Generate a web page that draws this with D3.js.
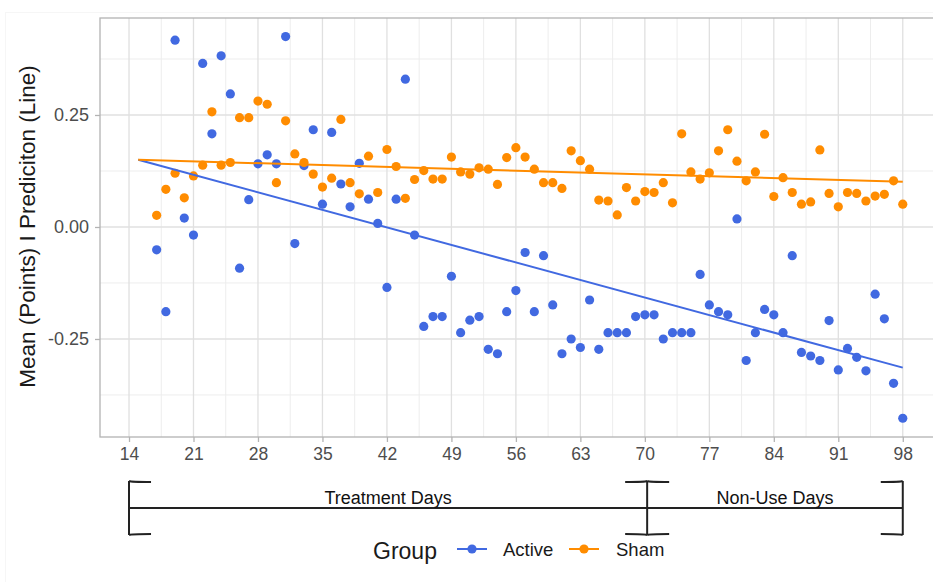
<!DOCTYPE html>
<html>
<head>
<meta charset="utf-8">
<script src="https://cdn.jsdelivr.net/npm/d3@7"></script>
<style>
  html, body { margin: 0; padding: 0; background: #fff; }
  svg { display: block; font-family: "Liberation Sans", Arial, Helvetica, sans-serif; }
</style>
</head>
<body>
<svg id="chart" width="933" height="582"></svg>
<script>
// ---------------- data ----------------
const days = d3.range(17, 99); // 17..98
const activeValues = [
  -0.051, -0.189, 0.417, 0.020, -0.018, 0.365, 0.208, 0.382, 0.297, -0.092,
  0.061, 0.141, 0.161, 0.141, 0.425, -0.037, 0.137, 0.217, 0.051, 0.211,
  0.096, 0.045, 0.142, 0.062, 0.008, -0.135, 0.062, 0.330, -0.018, -0.222,
  -0.200, -0.200, -0.110, -0.236, -0.208, -0.200, -0.273, -0.283, -0.189, -0.142,
  -0.057, -0.189, -0.064, -0.174, -0.283, -0.250, -0.269, -0.163, -0.273, -0.236,
  -0.236, -0.236, -0.200, -0.196, -0.196, -0.250, -0.236, -0.236, -0.236, -0.106,
  -0.174, -0.189, -0.196, 0.018, -0.298, -0.236, -0.184, -0.196, -0.236, -0.064,
  -0.280, -0.288, -0.298, -0.209, -0.319, -0.271, -0.291, -0.321, -0.150, -0.205,
  -0.349, -0.427
];
const shamValues = [
  0.026, 0.084, 0.120, 0.065, 0.114, 0.138, 0.257, 0.138, 0.144, 0.244,
  0.244, 0.281, 0.274, 0.099, 0.237, 0.163, 0.144, 0.118, 0.089, 0.109,
  0.240, 0.099, 0.074, 0.158, 0.077, 0.173, 0.135, 0.064, 0.106, 0.126,
  0.107, 0.107, 0.156, 0.123, 0.118, 0.132, 0.129, 0.095, 0.155, 0.177,
  0.156, 0.129, 0.099, 0.099, 0.086, 0.170, 0.148, 0.129, 0.060, 0.058,
  0.027, 0.088, 0.058, 0.079, 0.077, 0.099, 0.054, 0.208, 0.123, 0.107,
  0.121, 0.170, 0.217, 0.147, 0.103, 0.123, 0.207, 0.068, 0.110, 0.077,
  0.051, 0.056, 0.172, 0.075, 0.045, 0.077, 0.075, 0.058, 0.069, 0.073,
  0.103, 0.051
];
const lineDays = [15, 98];
const activeLine = [0.150, -0.314];
const shamLine = [0.150, 0.101];

const groups = ["Active", "Sham"];
const groupColors = ["#4169E1", "#FF8C00"];

const xTicks = [14, 21, 28, 35, 42, 49, 56, 63, 70, 77, 84, 91, 98];
const xMinor = [17.5, 24.5, 31.5, 38.5, 45.5, 52.5, 59.5, 66.5, 73.5, 80.5, 87.5, 94.5, 101.5];
const yTicks = [-0.25, 0, 0.25];
const yMinor = [-0.375, -0.125, 0.125, 0.375];
const yTickLabels = ["-0.25", "0.00", "0.25"];

const periodBounds = [14, 70.25, 98];
const periodLabels = ["Treatment Days", "Non-Use Days"];

const yTitle = "Mean (Points) I Prediciton (Line)";
const legendTitle = "Group";

// ---------------- layout ----------------
const svg = d3.select("#chart");
const panel = { left: 100, right: 941, top: 18, bottom: 437 };

const x = d3.scaleLinear().domain([10.85, 102.15]).range([panel.left, panel.right]);
const y = d3.scaleLinear().domain([-0.4688, 0.4665]).range([panel.bottom, panel.top]);

// faint outer frame (screenshot border)
svg.append("rect").attr("x", 5.5).attr("y", 12.5).attr("width", 940).attr("height", 570)
  .attr("fill", "none").attr("stroke", "#f6f6f6");

const g = svg.append("g");

// grid
const gridMinor = "#ededed", gridMajor = "#e0e0e0";
g.selectAll(".xminor").data(xMinor).enter().append("line")
  .attr("x1", d => x(d)).attr("x2", d => x(d))
  .attr("y1", panel.top).attr("y2", panel.bottom)
  .attr("stroke", gridMinor).attr("stroke-width", 1);
g.selectAll(".yminor").data(yMinor).enter().append("line")
  .attr("y1", d => y(d)).attr("y2", d => y(d))
  .attr("x1", panel.left).attr("x2", panel.right)
  .attr("stroke", gridMinor).attr("stroke-width", 1);
g.selectAll(".xmajor").data(xTicks).enter().append("line")
  .attr("x1", d => x(d)).attr("x2", d => x(d))
  .attr("y1", panel.top).attr("y2", panel.bottom)
  .attr("stroke", gridMajor).attr("stroke-width", 1.3);
g.selectAll(".ymajor").data(yTicks).enter().append("line")
  .attr("y1", d => y(d)).attr("y2", d => y(d))
  .attr("x1", panel.left).attr("x2", panel.right)
  .attr("stroke", gridMajor).attr("stroke-width", 1.3);

// panel border
g.append("rect")
  .attr("x", panel.left).attr("y", panel.top)
  .attr("width", panel.right - panel.left).attr("height", panel.bottom - panel.top)
  .attr("fill", "none").attr("stroke", "#b3b3b3").attr("stroke-width", 1.3);

// axes
const xAxis = d3.axisBottom(x).tickValues(xTicks).tickSize(5).tickPadding(6).tickFormat(d3.format("d"));
const gx = svg.append("g").attr("transform", `translate(0,${panel.bottom})`).call(xAxis);
gx.select(".domain").remove();
gx.selectAll("line").attr("stroke", "#b3b3b3").attr("stroke-width", 1.3);
gx.selectAll("text").attr("fill", "#4d4d4d").style("font-size", "17.5px");

const yAxis = d3.axisLeft(y).tickValues(yTicks).tickSize(5).tickPadding(6)
  .tickFormat((d, i) => yTickLabels[i]);
const gy = svg.append("g").attr("transform", `translate(${panel.left},0)`).call(yAxis);
gy.select(".domain").remove();
gy.selectAll("line").attr("stroke", "#b3b3b3").attr("stroke-width", 1.3);
gy.selectAll("text").attr("fill", "#4d4d4d").style("font-size", "18px");

// y title
svg.append("text")
  .attr("transform", `translate(35,${(panel.top + panel.bottom) / 2 - 1}) rotate(-90)`)
  .attr("text-anchor", "middle")
  .attr("fill", "#1a1a1a")
  .style("font-size", "22.5px")
  .text(yTitle);

// clip
svg.append("clipPath").attr("id", "clip").append("rect")
  .attr("x", panel.left).attr("y", panel.top)
  .attr("width", panel.right - panel.left).attr("height", panel.bottom - panel.top);
const plot = svg.append("g").attr("clip-path", "url(#clip)");

const seriesVals = [activeValues, shamValues];
const lineVals = [activeLine, shamLine];
const lineGen = d3.line().x(d => x(d[0])).y(d => y(d[1]));

seriesVals.forEach((vals, si) => {
  plot.append("g").selectAll("circle")
    .data(days.map((d, i) => [d, vals[i]]))
    .enter().append("circle")
    .attr("cx", d => x(d[0])).attr("cy", d => y(d[1]))
    .attr("r", 4.6).attr("fill", groupColors[si]);
});
lineVals.forEach((vals, si) => {
  plot.append("path")
    .datum(lineDays.map((d, i) => [d, vals[i]]))
    .attr("d", lineGen)
    .attr("fill", "none").attr("stroke", groupColors[si]).attr("stroke-width", 2);
});

// period annotation brackets
const ann = svg.append("g").attr("stroke", "#222").attr("fill", "none").attr("stroke-width", 2);
const bTop = 481, bMid = 508, bBot = 535, tick = 22;
ann.append("line").attr("x1", x(periodBounds[0])).attr("x2", x(periodBounds[2]))
  .attr("y1", bMid).attr("y2", bMid);
periodBounds.forEach((b, i) => {
  const bx = x(b);
  ann.append("line").attr("x1", bx).attr("x2", bx).attr("y1", bTop).attr("y2", bBot);
  const left = i > 0, right = i < periodBounds.length - 1;
  [bTop, bBot].forEach(yy => {
    const dir = yy === bTop ? -1 : 1;
    if (right) ann.append("path").attr("d", `M${bx},${yy} Q${bx + 2},${yy - dir * 1} ${bx + tick},${yy - dir * 1}`);
    if (left) ann.append("path").attr("d", `M${bx},${yy} Q${bx - 2},${yy - dir * 1} ${bx - tick},${yy - dir * 1}`);
  });
});
periodLabels.forEach((lab, i) => {
  svg.append("text")
    .attr("x", (x(periodBounds[i]) + x(periodBounds[i + 1])) / 2)
    .attr("y", 504)
    .attr("text-anchor", "middle")
    .attr("fill", "#111")
    .style("font-size", "18px")
    .text(lab);
});

// legend
const leg = svg.append("g");
leg.append("text").attr("x", 373).attr("y", 559).attr("fill", "#1a1a1a")
  .style("font-size", "23px").text(legendTitle);
const legItems = [
  { kx: 457, tx: 503 },
  { kx: 569, tx: 616 }
];
groups.forEach((name, i) => {
  const it = legItems[i];
  leg.append("line").attr("x1", it.kx).attr("x2", it.kx + 30)
    .attr("y1", 549).attr("y2", 549)
    .attr("stroke", groupColors[i]).attr("stroke-width", 2);
  leg.append("circle").attr("cx", it.kx + 15).attr("cy", 549).attr("r", 4.6).attr("fill", groupColors[i]);
  leg.append("text").attr("x", it.tx).attr("y", 556).attr("fill", "#1a1a1a")
    .style("font-size", "18.5px").text(name);
});
</script>
</body>
</html>
